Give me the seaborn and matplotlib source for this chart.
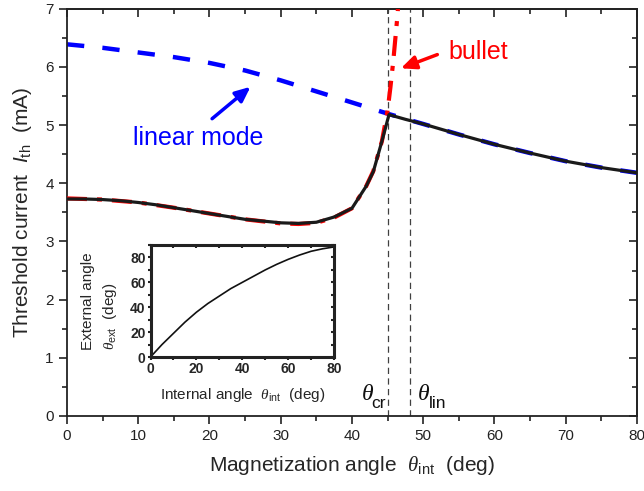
import matplotlib
matplotlib.use("Agg")
import matplotlib.pyplot as plt
from matplotlib.ticker import MultipleLocator
import seaborn as sns

sns.set_theme(style="ticks")
plt.rcParams["font.family"] = ["Liberation Sans", "DejaVu Sans"]
plt.rcParams["mathtext.fontset"] = "custom"
plt.rcParams["mathtext.rm"] = "Liberation Sans"
plt.rcParams["mathtext.it"] = "Liberation Sans:italic"
plt.rcParams["mathtext.bf"] = "Liberation Sans:bold"
plt.rcParams["mathtext.cal"] = "Liberation Serif:italic"

# full model (black solid)
angle_full = [0, 2.5, 5, 7.5, 10, 12.5, 15, 17.5, 20, 22.5, 25, 27.5, 30, 32.5,
              35, 37.5, 40, 41, 42, 43, 44.2, 45.2, 47.5, 50, 55, 60, 65, 70, 75, 80]
ith_full = [3.73, 3.73, 3.72, 3.70, 3.67, 3.63, 3.58, 3.53, 3.48, 3.43, 3.38, 3.35,
            3.32, 3.31, 3.33, 3.42, 3.57, 3.76, 3.95, 4.20, 4.72, 5.18, 5.10, 5.02,
            4.84, 4.67, 4.52, 4.38, 4.27, 4.18]

# bullet mode (red dash-dot)
angle_bullet = [0, 5, 10, 15, 20, 25, 30, 32.5, 35, 37.5, 40, 41, 42, 43, 44.2,
                45.0, 45.4, 45.8, 46.1, 46.4, 46.6]
ith_bullet = [3.74, 3.72, 3.67, 3.58, 3.48, 3.38, 3.31, 3.30, 3.32, 3.41, 3.57, 3.76,
              3.95, 4.21, 4.72, 5.25, 5.65, 6.10, 6.50, 6.90, 7.30]

# linear mode (blue dashed)
angle_linear = [0, 5, 10, 15, 20, 25, 30, 35, 40, 45.2, 50, 55, 60, 65, 70, 75, 80]
ith_linear = [6.39, 6.33, 6.25, 6.17, 6.07, 5.94, 5.77, 5.58, 5.39, 5.19, 5.02, 4.84,
              4.67, 4.52, 4.38, 4.27, 4.18]

theta_cr = 45.1
theta_lin = 48.2

# inset: external vs internal angle
int_angle = [0, 5, 10, 15, 20, 25, 30, 35, 40, 45, 50, 55, 60, 65, 70, 75, 80]
ext_angle = [0, 10, 19, 28, 36, 43, 49, 55, 60, 65, 70, 74.5, 78.5, 82, 85, 87, 88.5]

fig = plt.figure(figsize=(6.44, 4.91), dpi=100)
ax = fig.add_axes([0.104, 0.153, 0.885, 0.829])

sns.lineplot(x=angle_linear, y=ith_linear, ax=ax, color="#0000ff", linewidth=3.2,
             linestyle=(0, (3.9, 4.1)), zorder=2)
sns.lineplot(x=angle_bullet, y=ith_bullet, ax=ax, color="#ff0000", linewidth=3.0,
             linestyle=(0, (4.8, 2.4, 1.2, 2.4)), zorder=3)
sns.lineplot(x=angle_full, y=ith_full, ax=ax, color="#1a1a1a", linewidth=2.3, zorder=4)

for xv in (theta_cr, theta_lin):
    ax.axvline(xv, color="0.25", lw=0.9, linestyle=(0, (5, 3.5)), zorder=1)

ax.set_xlim(0, 80)
ax.set_ylim(0, 7)
ax.set_xticks(range(0, 81, 10))
ax.set_yticks(range(0, 8))
ax.xaxis.set_minor_locator(MultipleLocator(5))
ax.yaxis.set_minor_locator(MultipleLocator(0.5))
ax.tick_params(which="major", direction="out", length=6, width=1.2, labelsize=11,
               color="#222222", labelcolor="#222222")
ax.tick_params(which="minor", direction="out", length=3.5, width=1.2, color="#222222")
for s in ax.spines.values():
    s.set_linewidth(1.3)
    s.set_color("#222222")

top = ax.secondary_xaxis("top")
top.set_xticks(range(0, 81, 10))
top.xaxis.set_minor_locator(MultipleLocator(5))
top.tick_params(which="both", direction="in", labeltop=False, width=1.2, color="#222222")
top.tick_params(which="major", length=6)
top.tick_params(which="minor", length=3.5)
right = ax.secondary_yaxis("right")
right.set_yticks(range(0, 8))
right.yaxis.set_minor_locator(MultipleLocator(0.5))
right.tick_params(which="both", direction="in", labelright=False, width=1.2, color="#222222")
right.tick_params(which="major", length=6)
right.tick_params(which="minor", length=3.5)

ax.set_xlabel(r"Magnetization angle  $\mathcal{\theta}_{\mathrm{int}}$  (deg)",
              fontsize=15, labelpad=8)
ax.set_ylabel(r"Threshold current  $I_{\mathrm{th}}$  (mA)", fontsize=15, labelpad=8)

arrow_kw = "-|>,head_length=0.45,head_width=0.2"
ax.annotate("", xy=(26.06, 5.69), xytext=(20.07, 5.08),
            arrowprops=dict(arrowstyle=arrow_kw, color="#0000ff", lw=2.5, mutation_scale=20))
ax.text(18.35, 4.65, "linear mode", color="#0000ff", fontsize=18,
        ha="center", va="baseline")
ax.annotate("", xy=(46.5, 5.96), xytext=(52.35, 6.23),
            arrowprops=dict(arrowstyle=arrow_kw, color="#ff0000", lw=2.5, mutation_scale=20))
ax.text(53.5, 6.14, "bullet", color="#ff0000", fontsize=18, ha="left", va="baseline")

# theta_cr / theta_lin markers: serif italic theta with sans subscript
for x_th, x_sub, sub in ((41.36, 42.76, "cr"), (49.26, 50.85, "lin")):
    ax.text(x_th, 0.275, "\u03b8", fontsize=17, family="Liberation Serif",
            style="italic", color="#111111", ha="left", va="baseline")
    ax.text(x_sub, 0.133, sub, fontsize=12.5, color="#111111", ha="left", va="baseline")

# inset
ax_in = fig.add_axes([0.2337, 0.2729, 0.285, 0.228])
sns.lineplot(x=int_angle, y=ext_angle, ax=ax_in, color="#111111", linewidth=1.2)
ax_in.set_xlim(0, 80)
ax_in.set_ylim(0, 90)
ax_in.set_xticks(range(0, 81, 20))
ax_in.set_yticks(range(0, 81, 20))
ax_in.xaxis.set_minor_locator(MultipleLocator(10))
ax_in.yaxis.set_minor_locator(MultipleLocator(10))
ax_in.tick_params(which="both", direction="out", length=2.5, width=1.5, pad=1,
                  labelsize=10, color="#222222")
for lab in ax_in.get_xticklabels() + ax_in.get_yticklabels():
    lab.set_fontweight("bold")
for s in ax_in.spines.values():
    s.set_linewidth(2.2)
    s.set_color("#222222")
in_top = ax_in.secondary_xaxis("top")
in_top.set_xticks(range(0, 81, 20))
in_top.xaxis.set_minor_locator(MultipleLocator(10))
in_top.tick_params(which="both", direction="in", length=2.5, width=1.5,
                   labeltop=False, color="#222222")
in_right = ax_in.secondary_yaxis("right")
in_right.set_yticks(range(0, 81, 20))
in_right.yaxis.set_minor_locator(MultipleLocator(10))
in_right.tick_params(which="both", direction="in", length=2.5, width=1.5,
                     labelright=False, color="#222222")
ax_in.set_xlabel(r"Internal angle  $\mathcal{\theta}_{\mathrm{int}}$  (deg)",
                 fontsize=11, labelpad=7)
ax_in.set_ylabel("External angle\n" + r"$\mathcal{\theta}_{\mathrm{ext}}$  (deg)",
                 fontsize=11, labelpad=8, linespacing=1.5, multialignment="left")

fig.savefig("out.png", dpi=100)
